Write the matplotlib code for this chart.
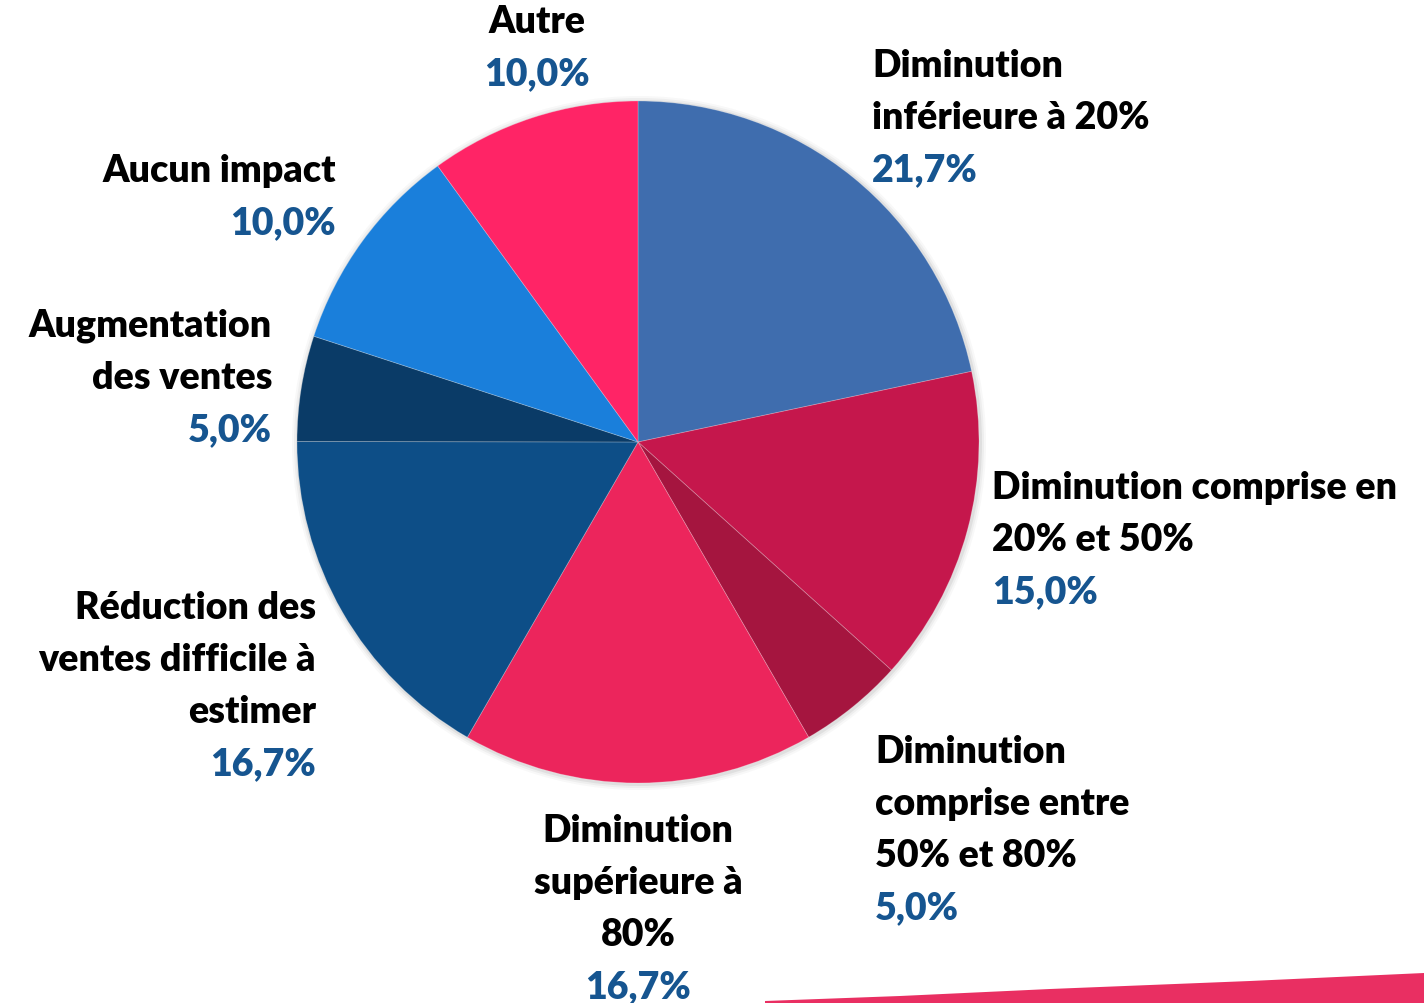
import matplotlib.pyplot as plt
from matplotlib.patches import Circle, Polygon

# slices, clockwise from 12 o'clock
labels = [
    "Diminution\ninférieure à 20%",
    "Diminution comprise en\n20% et 50%",
    "Diminution\ncomprise entre\n50% et 80%",
    "Diminution\nsupérieure à\n80%",
    "Réduction des\nventes difficile à\nestimer",
    "Augmentation\ndes ventes",
    "Aucun impact",
    "Autre",
]
shares = [21.7, 15.0, 5.0, 16.7, 16.7, 5.0, 10.0, 10.0]
colors = ["#3F6DAE", "#C5174C", "#A5153F", "#EC255C",
          "#0D4E87", "#0A3B67", "#1A7FDB", "#FF2466"]

# label anchors in pixels (x, y of first line, top-down), alignment
label_pos = [
    (872, 66, "left"),
    (992, 488, "left"),
    (875, 752, "left"),
    (638, 831, "center"),
    (316, 608, "right"),
    (272, 326, "right"),
    (336, 171, "right"),
    (537, 22, "center"),
]

W, H = 1424, 1004
CX, CY, R = 638, 443, 341
LINE = 52
FONT = ["Lato", "DejaVu Sans"]
PCT_COLOR = "#165590"

fig = plt.figure(figsize=(W / 100, H / 100), dpi=100)
ax = fig.add_axes([0, 0, 1, 1])
ax.set_xlim(0, W)
ax.set_ylim(0, H)
ax.set_aspect("equal")
ax.set_axis_off()

# soft shadow behind the pie
for k, a in [(6, 0.05), (4, 0.08), (2, 0.12)]:
    ax.add_patch(Circle((CX + 1, H - CY - 1), R + k, color="#7a7a7a", alpha=a, lw=0))

ax.pie(
    shares,
    colors=colors,
    startangle=90,
    counterclock=False,
    center=(CX, H - CY),
    radius=R,
    wedgeprops=dict(edgecolor=(1, 1, 1, 0.25), linewidth=0.6),
    frame=True,
)
ax.set_xlim(0, W)
ax.set_ylim(0, H)
ax.set_axis_off()

for text, val, (x, y, ha) in zip(labels, shares, label_pos):
    lines = text.split("\n")
    for i, line in enumerate(lines):
        ax.text(x, H - (y + i * LINE), line, ha=ha, va="center",
                fontsize=27, fontweight="heavy", family=FONT, color="black")
    ax.text(x, H - (y + len(lines) * LINE), f"{val:.1f}%".replace(".", ","),
            ha=ha, va="center", fontsize=27, fontweight="heavy",
            family=FONT, color=PCT_COLOR)

# brush stroke decoration, bottom right
ax.add_patch(Polygon(
    [(765, 0), (765, 2), (900, 7), (1050, 14), (1250, 22), (1424, 30), (1424, 0)],
    closed=True, color="#E8245A", lw=0, alpha=0.95))

fig.savefig("out.png", dpi=100)
plt.close(fig)
